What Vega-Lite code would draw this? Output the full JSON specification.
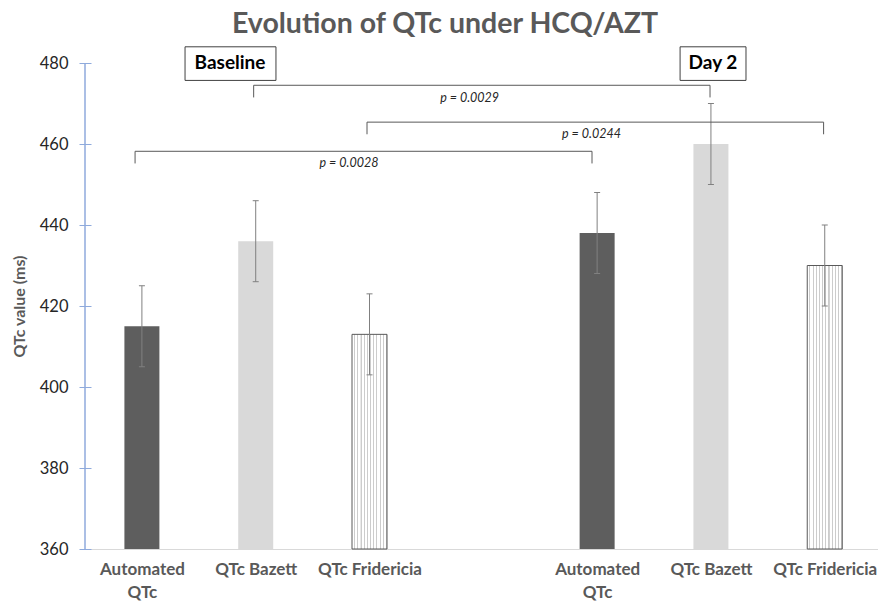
{
  "$schema": "https://vega.github.io/schema/vega-lite/v6.json",
  "width": 793,
  "height": 486,
  "autosize": {"type": "none"},
  "padding": {"left": 85, "top": 63, "right": 0, "bottom": 53},
  "background": "white",
  "title": {"text": "Evolution of QTc under HCQ/AZT", "font": "Lato", "fontSize": 28.5, "fontWeight": "bold", "color": "#595959", "anchor": "middle", "offset": 8, "dx": -36.5},
  "config": {"view": {"stroke": null}, "font": "Lato"},
  "datasets": {
    "bars": [
      {"period": "Baseline", "measure": "Automated QTc", "slot": 0, "qtc": 415, "lo": 405, "hi": 425},
      {"period": "Baseline", "measure": "QTc Bazett", "slot": 1, "qtc": 436, "lo": 426, "hi": 446},
      {"period": "Baseline", "measure": "QTc Fridericia", "slot": 2, "qtc": 413, "lo": 403, "hi": 423},
      {"period": "Day 2", "measure": "Automated QTc", "slot": 4, "qtc": 438, "lo": 428, "hi": 448},
      {"period": "Day 2", "measure": "QTc Bazett", "slot": 5, "qtc": 460, "lo": 450, "hi": 470},
      {"period": "Day 2", "measure": "QTc Fridericia", "slot": 6, "qtc": 430, "lo": 420, "hi": 440}
    ],
    "brackets": [
      {"label": "p = 0.0029", "from": 0.982, "to": 4.992, "top": 474.5, "bottom": 471.5, "lx": 2.88, "ly": 471.4},
      {"label": "p = 0.0244", "from": 1.978, "to": 5.99, "top": 465.4, "bottom": 462.4, "lx": 3.95, "ly": 462.5},
      {"label": "p = 0.0028", "from": -0.06, "to": 3.955, "top": 458.2, "bottom": 455.2, "lx": 1.82, "ly": 455.4}
    ],
    "periods": [
      {"period": "Baseline", "x1": 0.379, "x2": 1.178, "y1": 484.0, "y2": 475.7, "cx": 0.774, "cy": 479.9},
      {"period": "Day 2", "x1": 4.729, "x2": 5.308, "y1": 484.0, "y2": 475.7, "cx": 5.018, "cy": 479.9}
    ]
  },
  "layer": [
    {
      "data": {"name": "bars"},
      "transform": [{"filter": "datum.measure == 'Automated QTc'"}],
      "mark": {"type": "bar", "width": 35, "fill": "#5e5e5e"},
      "encoding": {
        "x": {"field": "slot", "type": "quantitative", "scale": {"domain": [-0.5, 6.468], "nice": false, "zero": false, "padding": 0},
          "axis": {"values": [0, 1, 2, 4, 5, 6], "labelExpr": "datum.value == 0 || datum.value == 4 ? ['Automated', 'QTc'] : (datum.value == 1 || datum.value == 5 ? 'QTc Bazett' : 'QTc Fridericia')",
            "title": null, "grid": false, "ticks": false, "domainColor": "#d9d9d9", "labelFont": "Lato", "labelFontSize": 17, "labelFontWeight": "bold", "labelColor": "#595959", "labelPadding": 12, "labelLineHeight": 23, "labelFlush": false, "labelOverlap": false, "labelBound": false, "labelBaseline": "top"}},
        "y": {"field": "qtc", "type": "quantitative", "scale": {"domain": [360, 480], "nice": false, "zero": false, "padding": 0},
          "axis": {"values": [360, 380, 400, 420, 440, 460, 480], "title": "QTc value (ms)", "grid": false, "domain": false, "tickColor": "#8faadc", "tickSize": 12, "offset": -6, "labelPadding": 11, "labelFont": "Lato", "labelFontSize": 16.5, "labelColor": "#262626", "titleFont": "Lato", "titleFontSize": 16, "titleFontWeight": "bold", "titleColor": "#595959", "titlePadding": 12}},
        "y2": {"datum": 360}
      }
    },
    {
      "data": {"name": "bars"},
      "transform": [{"filter": "datum.measure == 'QTc Bazett'"}],
      "mark": {"type": "bar", "width": 35, "fill": "#d9d9d9"},
      "encoding": {
        "x": {"field": "slot", "type": "quantitative"},
        "y": {"field": "qtc", "type": "quantitative"},
        "y2": {"datum": 360}
      }
    },
    {
      "data": {"name": "bars"},
      "transform": [{"filter": "datum.measure == 'QTc Fridericia'"}],
      "mark": {"type": "bar", "width": 35, "stroke": "#595959", "strokeWidth": 1,
        "fill": {"gradient": "linear", "x1": 0, "x2": 1, "y1": 0, "y2": 0, "stops": [
          {"offset": 0, "color": "#ffffff"}, {"offset": 0.06, "color": "#ffffff"}, {"offset": 0.061, "color": "#cccccc"}, {"offset": 0.09, "color": "#cccccc"},
          {"offset": 0.0909, "color": "#ffffff"}, {"offset": 0.151, "color": "#ffffff"}, {"offset": 0.152, "color": "#cccccc"}, {"offset": 0.181, "color": "#cccccc"},
          {"offset": 0.1818, "color": "#ffffff"}, {"offset": 0.242, "color": "#ffffff"}, {"offset": 0.243, "color": "#cccccc"}, {"offset": 0.272, "color": "#cccccc"},
          {"offset": 0.2727, "color": "#ffffff"}, {"offset": 0.333, "color": "#ffffff"}, {"offset": 0.334, "color": "#cccccc"}, {"offset": 0.363, "color": "#cccccc"},
          {"offset": 0.3636, "color": "#ffffff"}, {"offset": 0.424, "color": "#ffffff"}, {"offset": 0.425, "color": "#cccccc"}, {"offset": 0.454, "color": "#cccccc"},
          {"offset": 0.4545, "color": "#ffffff"}, {"offset": 0.515, "color": "#ffffff"}, {"offset": 0.516, "color": "#cccccc"}, {"offset": 0.545, "color": "#cccccc"},
          {"offset": 0.5454, "color": "#ffffff"}, {"offset": 0.605, "color": "#ffffff"}, {"offset": 0.606, "color": "#cccccc"}, {"offset": 0.636, "color": "#cccccc"},
          {"offset": 0.6363, "color": "#ffffff"}, {"offset": 0.696, "color": "#ffffff"}, {"offset": 0.697, "color": "#cccccc"}, {"offset": 0.727, "color": "#cccccc"},
          {"offset": 0.7272, "color": "#ffffff"}, {"offset": 0.787, "color": "#ffffff"}, {"offset": 0.788, "color": "#cccccc"}, {"offset": 0.818, "color": "#cccccc"},
          {"offset": 0.8181, "color": "#ffffff"}, {"offset": 0.878, "color": "#ffffff"}, {"offset": 0.879, "color": "#cccccc"}, {"offset": 0.909, "color": "#cccccc"},
          {"offset": 0.9090, "color": "#ffffff"}, {"offset": 0.969, "color": "#ffffff"}, {"offset": 0.970, "color": "#cccccc"}, {"offset": 1, "color": "#cccccc"}
        ]}},
      "encoding": {
        "x": {"field": "slot", "type": "quantitative"},
        "y": {"field": "qtc", "type": "quantitative"},
        "y2": {"datum": 360}
      }
    },
    {
      "data": {"name": "bars"},
      "mark": {"type": "rule", "color": "#808080", "strokeWidth": 1},
      "encoding": {
        "x": {"field": "slot", "type": "quantitative"},
        "y": {"field": "lo", "type": "quantitative"},
        "y2": {"field": "hi"}
      }
    },
    {
      "data": {"name": "bars"},
      "mark": {"type": "tick", "orient": "horizontal", "size": 6, "thickness": 1, "color": "#808080", "opacity": 1},
      "encoding": {
        "x": {"field": "slot", "type": "quantitative"},
        "y": {"field": "lo", "type": "quantitative"}
      }
    },
    {
      "data": {"name": "bars"},
      "mark": {"type": "tick", "orient": "horizontal", "size": 6, "thickness": 1, "color": "#808080", "opacity": 1},
      "encoding": {
        "x": {"field": "slot", "type": "quantitative"},
        "y": {"field": "hi", "type": "quantitative"}
      }
    },
    {
      "data": {"values": [{}]},
      "mark": {"type": "rule", "color": "#8faadc", "strokeWidth": 1.5},
      "encoding": {
        "x": {"datum": -0.5, "type": "quantitative"},
        "y": {"datum": 360, "type": "quantitative"},
        "y2": {"datum": 480}
      }
    },
    {
      "data": {"name": "brackets"},
      "mark": {"type": "rule", "color": "#595959", "strokeWidth": 1},
      "encoding": {
        "x": {"field": "from", "type": "quantitative"},
        "x2": {"field": "to"},
        "y": {"field": "top", "type": "quantitative"}
      }
    },
    {
      "data": {"name": "brackets"},
      "mark": {"type": "rule", "color": "#595959", "strokeWidth": 1},
      "encoding": {
        "x": {"field": "from", "type": "quantitative"},
        "y": {"field": "top", "type": "quantitative"},
        "y2": {"field": "bottom"}
      }
    },
    {
      "data": {"name": "brackets"},
      "mark": {"type": "rule", "color": "#595959", "strokeWidth": 1},
      "encoding": {
        "x": {"field": "to", "type": "quantitative"},
        "y": {"field": "top", "type": "quantitative"},
        "y2": {"field": "bottom"}
      }
    },
    {
      "data": {"name": "brackets"},
      "mark": {"type": "text", "font": "Lato", "fontSize": 12.5, "fontStyle": "italic", "color": "#262626", "align": "center", "baseline": "middle"},
      "encoding": {
        "x": {"field": "lx", "type": "quantitative"},
        "y": {"field": "ly", "type": "quantitative"},
        "text": {"field": "label"}
      }
    },
    {
      "data": {"name": "periods"},
      "mark": {"type": "rect", "fill": "white", "stroke": "#404040", "strokeWidth": 1},
      "encoding": {
        "x": {"field": "x1", "type": "quantitative"},
        "x2": {"field": "x2"},
        "y": {"field": "y1", "type": "quantitative"},
        "y2": {"field": "y2"}
      }
    },
    {
      "data": {"name": "periods"},
      "mark": {"type": "text", "font": "Lato", "fontSize": 19, "fontWeight": "bold", "color": "#000000", "align": "center", "baseline": "middle"},
      "encoding": {
        "x": {"field": "cx", "type": "quantitative"},
        "y": {"field": "cy", "type": "quantitative"},
        "text": {"field": "period"}
      }
    }
  ]
}
